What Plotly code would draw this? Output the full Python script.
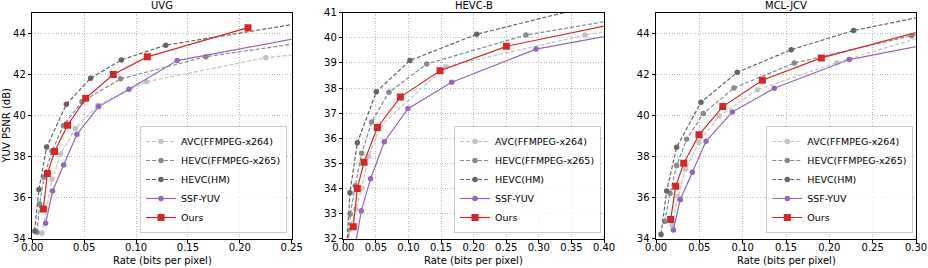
import plotly.graph_objects as go

W, H = 928, 268

series_names = ["AVC(FFMPEG-x264)", "HEVC(FFMPEG-x265)", "HEVC(HM)", "SSF-YUV", "Ours"]
panel_titles = ["UVG", "HEVC-B", "MCL-JCV"]

# ---- UVG ----
uvg_x264_rate = [0.0093, 0.019, 0.0273, 0.0414, 0.0633, 0.110, 0.225, 0.40]
uvg_x264_psnr = [34.26, 36.89, 38.12, 39.36, 40.49, 41.64, 42.81, 43.72]
uvg_x265_rate = [0.0045, 0.0071, 0.0112, 0.0190, 0.0299, 0.0479, 0.0851, 0.1674, 0.30]
uvg_x265_psnr = [34.32, 35.69, 36.99, 38.27, 39.50, 40.67, 41.78, 42.86, 43.83]
uvg_hm_rate = [0.0022, 0.0064, 0.0138, 0.0328, 0.0562, 0.0858, 0.1286, 0.30]
uvg_hm_psnr = [34.37, 36.40, 38.46, 40.54, 41.81, 42.70, 43.42, 44.83]
uvg_ssf_rate = [0.0128, 0.0196, 0.0302, 0.0430, 0.0639, 0.0932, 0.1397, 0.28]
uvg_ssf_psnr = [34.75, 36.32, 37.59, 39.08, 40.43, 41.27, 42.67, 43.99]
uvg_ours_rate = [0.0106, 0.0145, 0.0215, 0.034, 0.0514, 0.078, 0.1108, 0.2079]
uvg_ours_psnr = [35.44, 37.17, 38.24, 39.52, 40.83, 41.99, 42.85, 44.27]

# ---- HEVC-B ----
hb_x264_rate = [0.006, 0.0092, 0.019, 0.0282, 0.0389, 0.0563, 0.157, 0.371, 0.45]
hb_x264_psnr = [31.4, 32.35, 33.18, 34.01, 35.27, 36.49, 38.85, 40.11, 40.46]
hb_x265_rate = [0.0065, 0.0107, 0.0184, 0.0281, 0.0435, 0.070, 0.128, 0.2803, 0.45]
hb_x265_psnr = [31.33, 32.98, 34.11, 35.40, 36.65, 37.83, 38.96, 40.11, 40.86]
hb_hm_rate = [0.0045, 0.0102, 0.0215, 0.0506, 0.1023, 0.2047, 0.42]
hb_hm_psnr = [31.3, 33.83, 35.82, 37.85, 39.10, 40.14, 41.53]
hb_ssf_rate = [0.0185, 0.0276, 0.0419, 0.0629, 0.0992, 0.1663, 0.2957, 0.45]
hb_ssf_psnr = [31.75, 33.11, 34.39, 35.86, 37.18, 38.23, 39.55, 40.28]
hb_ours_rate = [0.0153, 0.0215, 0.0317, 0.0522, 0.0875, 0.1484, 0.2502, 0.45]
hb_ours_psnr = [32.48, 34.00, 35.04, 36.43, 37.64, 38.69, 39.66, 40.74]

# ---- MCL-JCV ----
mcl_x264_rate = [0.0185, 0.0254, 0.0342, 0.0496, 0.0727, 0.1173, 0.2085, 0.32]
mcl_x264_psnr = [34.67, 36.05, 37.39, 38.69, 39.97, 41.25, 42.57, 44.0]
mcl_x265_rate = [0.010, 0.0162, 0.0238, 0.0354, 0.0546, 0.090, 0.1596, 0.295, 0.40]
mcl_x265_psnr = [34.84, 36.21, 37.56, 38.84, 40.09, 41.34, 42.55, 43.88, 44.7]
mcl_hm_rate = [0.0058, 0.0123, 0.0238, 0.0519, 0.0938, 0.156, 0.228, 0.35]
mcl_hm_psnr = [34.21, 36.32, 38.45, 40.64, 42.10, 43.20, 44.13, 45.18]
mcl_ssf_rate = [0.020, 0.028, 0.0419, 0.0577, 0.088, 0.1365, 0.223, 0.35]
mcl_ssf_psnr = [34.42, 35.90, 37.23, 38.74, 40.17, 41.32, 42.72, 43.76]
mcl_ours_rate = [0.0169, 0.0227, 0.032, 0.0496, 0.077, 0.1227, 0.1907, 0.35]
mcl_ours_psnr = [34.93, 36.55, 37.67, 39.06, 40.43, 41.71, 42.80, 44.6]

x_ranges = [[0, 0.25], [0, 0.40], [0, 0.30]]
y_ranges = [[34, 45], [32, 41], [34, 45]]
x_tick_vals = [[0, 0.05, 0.10, 0.15, 0.20, 0.25],
               [0, 0.05, 0.10, 0.15, 0.20, 0.25, 0.30, 0.35, 0.40],
               [0, 0.05, 0.10, 0.15, 0.20, 0.25, 0.30]]
y_tick_vals = [[34, 36, 38, 40, 42, 44], [32, 33, 34, 35, 36, 37, 38, 39, 40, 41],
               [34, 36, 38, 40, 42, 44]]

panels = [
    [(uvg_x264_rate, uvg_x264_psnr), (uvg_x265_rate, uvg_x265_psnr), (uvg_hm_rate, uvg_hm_psnr),
     (uvg_ssf_rate, uvg_ssf_psnr), (uvg_ours_rate, uvg_ours_psnr)],
    [(hb_x264_rate, hb_x264_psnr), (hb_x265_rate, hb_x265_psnr), (hb_hm_rate, hb_hm_psnr),
     (hb_ssf_rate, hb_ssf_psnr), (hb_ours_rate, hb_ours_psnr)],
    [(mcl_x264_rate, mcl_x264_psnr), (mcl_x265_rate, mcl_x265_psnr), (mcl_hm_rate, mcl_hm_psnr),
     (mcl_ssf_rate, mcl_ssf_psnr), (mcl_ours_rate, mcl_ours_psnr)],
]

styles = [
    dict(color="#c4c4c4", dash="4px,2px", symbol="circle", size=5.5),
    dict(color="#8a8a8a", dash="4px,2px", symbol="circle", size=5.5),
    dict(color="#656565", dash="4px,2px", symbol="circle", size=5.5),
    dict(color="#9467bd", dash="solid", symbol="circle", size=5.5),
    dict(color="#d62728", dash="solid", symbol="square", size=7),
]

# plot-area pixel boxes
x_px = [(32.3, 291.7), (343.3, 604.0), (656.0, 916.0)]
y_px = (12.7, 238.7)
legend_right_px = [287.0, 601.0, 913.3]

fig = go.Figure()
font = "DejaVu Sans"
legend_names = ["legend", "legend2", "legend3"]

for p in range(3):
    xa = "x" if p == 0 else f"x{p+1}"
    ya = "y" if p == 0 else f"y{p+1}"
    for s in range(5):
        xs, ys = panels[p][s]
        st = styles[s]
        fig.add_trace(go.Scatter(
            x=xs, y=ys, mode="lines+markers", name=series_names[s],
            xaxis=xa, yaxis=ya, legend=legend_names[p],
            line=dict(color=st["color"], width=1.2, dash=st["dash"]),
            marker=dict(color=st["color"], symbol=st["symbol"], size=st["size"],
                        line=dict(width=0)),
        ))

layout = dict(
    width=W, height=H,
    margin=dict(l=0, r=0, t=0, b=0),
    paper_bgcolor="white", plot_bgcolor="white",
    font=dict(family=font, size=10, color="black"),
    showlegend=True,
)

grid_kw = dict(showgrid=True, gridcolor="#bdbdbd", gridwidth=0.8, griddash="1px,1.6px")
ydom = [1 - y_px[1] / H, 1 - y_px[0] / H]
annotations = []
for p in range(3):
    xk = "xaxis" if p == 0 else f"xaxis{p+1}"
    yk = "yaxis" if p == 0 else f"yaxis{p+1}"
    xdom = [x_px[p][0] / W, x_px[p][1] / W]
    layout[xk] = dict(
        domain=xdom, range=x_ranges[p], tickvals=x_tick_vals[p],
        tickformat=".2f", showline=True, mirror=True, linecolor="black", linewidth=1,
        ticks="outside", ticklen=3.5, tickwidth=1, tickcolor="black",
        zeroline=False, automargin=False, anchor="y" if p == 0 else f"y{p+1}",
        tickfont=dict(size=10, family=font), ticklabelstandoff=-4, **grid_kw,
    )
    layout[yk] = dict(
        domain=ydom, range=y_ranges[p], tickvals=y_tick_vals[p],
        showline=True, mirror=True, linecolor="black", linewidth=1,
        ticks="outside", ticklen=3.5, tickwidth=1, tickcolor="black",
        zeroline=False, automargin=False, anchor="x" if p == 0 else f"x{p+1}",
        tickfont=dict(size=10, family=font), **grid_kw,
    )
    ln = legend_names[p]
    layout[ln] = dict(
        x=legend_right_px[p] / W, y=1 - 233.0 / H, xanchor="right", yanchor="bottom",
        bgcolor="rgba(255,255,255,0.8)", bordercolor="#cccccc", borderwidth=1,
        font=dict(size=9.5, family=font), itemwidth=30, tracegroupgap=0,
    )
    cx = (x_px[p][0] + x_px[p][1]) / 2 / W
    annotations.append(dict(text=panel_titles[p], x=cx, y=1 - 12.5 / H, xref="paper", yref="paper",
                            xanchor="center", yanchor="bottom", showarrow=False,
                            font=dict(size=10, family=font)))
    annotations.append(dict(text="Rate (bits per pixel)", x=cx, y=1 - 260.5 / H, xref="paper",
                            yref="paper", xanchor="center", yanchor="middle", showarrow=False,
                            font=dict(size=10, family=font)))

annotations.append(dict(text="YUV PSNR (dB)", x=5.5 / W, y=1 - 126.0 / H, xref="paper", yref="paper",
                        xanchor="center", yanchor="middle", textangle=-90, showarrow=False,
                        font=dict(size=10, family=font)))
layout["annotations"] = annotations

fig.update_layout(**layout)
fig.write_html("out.html", config={"displayModeBar": False},
               post_script="document.body.style.margin='0';")
